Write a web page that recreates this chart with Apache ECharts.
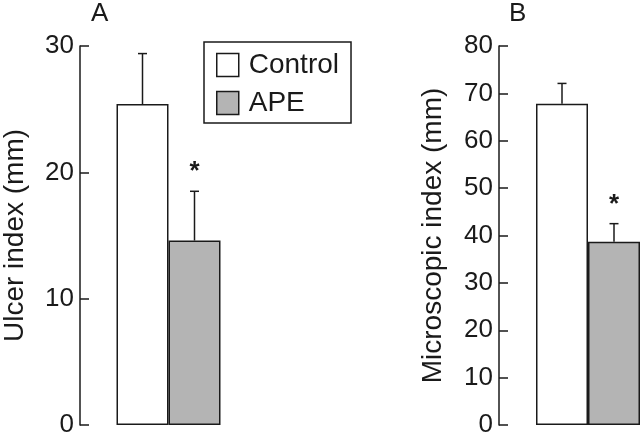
<!DOCTYPE html>
<html>
<head>
<meta charset="utf-8">
<script src="https://cdn.jsdelivr.net/npm/echarts@6/dist/echarts.min.js"></script>
<style>
html,body{margin:0;padding:0;background:#fff;}
#c{width:640px;height:439px;}
</style>
</head>
<body>
<div id="c"></div>
<script>
// ---- data ----
const panelTitles = ['A', 'B'];
const seriesNames = ['Control', 'APE'];
const axisNames = ['Ulcer index (mm)', 'Microscopic index (mm)'];
const yMaxA = 30, yMaxB = 80, yInterval = 10;
const ulcerMean = [25.4, 14.6];     // Control, APE
const ulcerSD = [4.0, 3.9];
const microMean = [67.8, 38.7];     // Control, APE
const microSD = [4.3, 3.8];
const significant = [false, true];  // asterisk marks
const colors = ['#ffffff', '#b4b4b4'];

const FONT = 'Liberation Sans';
const BAR_W = 52;
const INK = '#1a1a1a';

function errSeries(gridIdx, means, sds) {
  const data = means.map((m, i) => [0, m, m + sds[i], i, significant[i] ? 1 : 0]);
  return {
    type: 'custom',
    xAxisIndex: gridIdx, yAxisIndex: gridIdx,
    silent: true,
    z: 5,
    data: data,
    encode: { x: 0, y: [1, 2] },
    renderItem: function (params, api) {
      const idx = api.value(3);
      const base = api.coord([api.value(0), api.value(1)]);
      const top = api.coord([api.value(0), api.value(2)]);
      const x = base[0] + (idx === 0 ? -BAR_W / 2 : BAR_W / 2);
      const children = [
        { type: 'line', shape: { x1: x, y1: base[1], x2: x, y2: top[1] }, style: { stroke: INK, lineWidth: 1.5 } },
        { type: 'line', shape: { x1: x - 4.5, y1: top[1], x2: x + 4.5, y2: top[1] }, style: { stroke: INK, lineWidth: 1.5 } }
      ];
      if (api.value(4) === 1) {
        children.push({ type: 'text', x: x, y: top[1] - 19,
          style: { text: '*', fill: INK, fontSize: 26, fontFamily: FONT, fontWeight: 'bold', align: 'center', verticalAlign: 'middle' } });
      }
      return { type: 'group', children: children };
    }
  };
}

function barSeries(gridIdx, name, value, color) {
  return {
    type: 'bar', name: name,
    xAxisIndex: gridIdx, yAxisIndex: gridIdx,
    data: [value],
    barWidth: BAR_W, barGap: '0%',
    itemStyle: { color: color, borderColor: INK, borderWidth: 1.5 },
    emphasis: { disabled: true },
    animation: false
  };
}

function yAxis(gridIdx, max, name, nameGap, offset) {
  return {
    gridIndex: gridIdx, type: 'value', min: 0, max: max, interval: yInterval,
    offset: offset,
    name: name, nameLocation: 'middle', nameGap: nameGap, nameRotate: 90,
    nameTextStyle: { fontSize: 28, color: INK, fontFamily: FONT },
    axisLine: { show: true, lineStyle: { color: INK, width: 1.5 } },
    axisTick: { show: true, inside: true, length: 9, lineStyle: { color: INK, width: 1.5 } },
    axisLabel: { fontSize: 26, color: INK, fontFamily: FONT, margin: 6 },
    splitLine: { show: false }
  };
}

function xAxis(gridIdx) {
  return {
    gridIndex: gridIdx, type: 'category', data: [''],
    axisLine: { show: false }, axisTick: { show: false }, axisLabel: { show: false }
  };
}

const chart = echarts.init(document.getElementById('c'), null, { renderer: 'canvas' });
chart.setOption({
  backgroundColor: '#ffffff',
  animation: false,
  title: [
    { text: panelTitles[0], left: 86, top: -4, textStyle: { fontSize: 26, fontWeight: 'normal', color: INK, fontFamily: FONT } },
    { text: panelTitles[1], left: 504, top: -4, textStyle: { fontSize: 26, fontWeight: 'normal', color: INK, fontFamily: FONT } }
  ],
  legend: {
    data: seriesNames,
    orient: 'vertical',
    left: 204, top: 42,
    padding: [9, 12, 6, 12],
    itemWidth: 22, itemHeight: 23, itemGap: 10,
    borderColor: INK, borderWidth: 1.5,
    icon: 'rect',
    itemStyle: { borderColor: INK, borderWidth: 1.5 },
    textStyle: { fontSize: 28, lineHeight: 23, color: INK, fontFamily: FONT, padding: [0, 0, 0, 5] },
    selectedMode: false
  },
  grid: [
    { left: 80, width: 177, top: 46, bottom: 14, containLabel: false },
    { left: 536, right: 0, top: 46, bottom: 14, containLabel: false }
  ],
  xAxis: [xAxis(0), xAxis(1)],
  yAxis: [yAxis(0, yMaxA, axisNames[0], 51, 0), yAxis(1, yMaxB, axisNames[1], 52, 37)],
  series: [
    barSeries(0, seriesNames[0], ulcerMean[0], colors[0]),
    barSeries(0, seriesNames[1], ulcerMean[1], colors[1]),
    barSeries(1, seriesNames[0], microMean[0], colors[0]),
    barSeries(1, seriesNames[1], microMean[1], colors[1]),
    errSeries(0, ulcerMean, ulcerSD),
    errSeries(1, microMean, microSD)
  ]
});
</script>
</body>
</html>
